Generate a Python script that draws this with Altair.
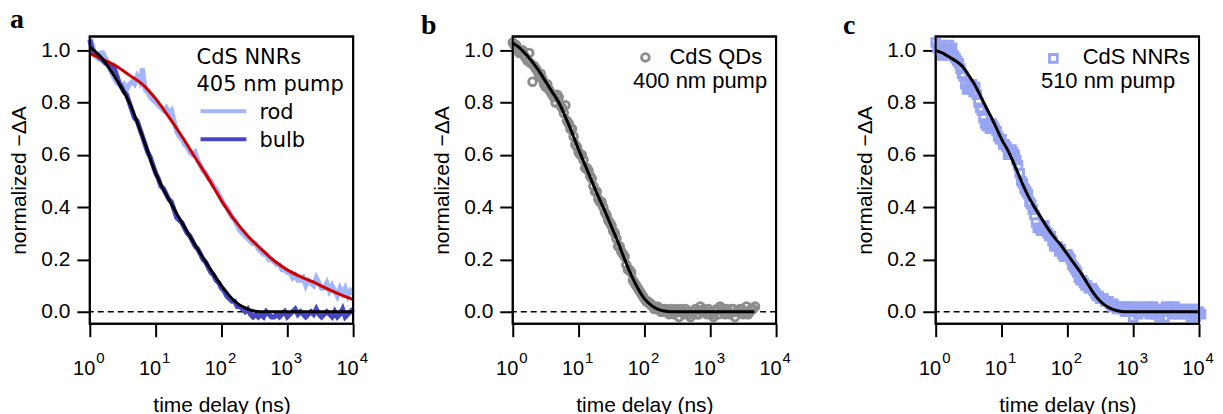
import altair as alt
import pandas as pd

SANS = "Liberation Sans"
VER = "DejaVu Sans"
SERIF = "Liberation Serif"

ROD = "#a3b6f7"
BULB = "#4747c4"
RED = "#cc0000"
GRAY = "#8c8c8c"
SQ = "#97a5f2"

# ---------------- data (log10 of delay in ns, normalized -dA) ----------------
# panel a : rod trace
a_rod_exp = [0.00,0.04,0.08,0.12,0.16,0.20,0.24,0.28,0.32,0.36,0.40,0.44,0.48,0.52,0.56,0.60,0.64,0.68,0.72,0.76,
             0.80,0.84,0.88,0.92,0.96,1.00,1.04,1.08,1.12,1.16,1.20,1.24,1.28,1.32,1.36,1.40,1.44,1.48,1.52,1.56,
             1.60,1.64,1.68,1.72,1.76,1.80,1.84,1.88,1.92,1.96,2.00,2.04,2.08,2.12,2.16,2.20,2.24,2.28,2.32,2.36,
             2.40,2.44,2.48,2.52,2.56,2.60,2.64,2.68,2.72,2.76,2.80,2.84,2.88,2.92,2.96,3.00,3.04,3.08,3.12,3.16,
             3.20,3.24,3.28,3.32,3.36,3.40,3.44,3.48,3.52,3.56,3.60,3.64,3.68,3.72,3.76,3.80,3.84,3.88,3.92,3.96,4.00]
a_rod_val = [1.05,1.02,0.98,0.97,0.99,0.99,0.97,0.94,0.92,0.90,0.88,0.87,0.86,0.87,0.85,0.87,0.88,0.87,0.90,0.88,
             0.93,0.85,0.84,0.82,0.81,0.80,0.79,0.78,0.77,0.78,0.76,0.77,0.73,0.69,0.67,0.66,0.64,0.63,0.61,0.60,
             0.61,0.58,0.56,0.54,0.53,0.51,0.50,0.48,0.47,0.45,0.43,0.41,0.40,0.38,0.36,0.35,0.33,0.31,0.30,0.29,
             0.28,0.27,0.26,0.26,0.24,0.23,0.22,0.22,0.20,0.20,0.19,0.18,0.18,0.16,0.16,0.15,0.15,0.13,0.14,0.12,
             0.12,0.13,0.10,0.12,0.11,0.10,0.13,0.11,0.09,0.09,0.11,0.08,0.10,0.08,0.06,0.09,0.07,0.09,0.06,0.08,0.07]
# panel a : bulb trace
a_bulb_exp = a_rod_exp
a_bulb_val = [1.04,1.00,0.99,0.98,0.97,0.96,0.95,0.95,0.94,0.94,0.91,0.88,0.86,0.84,0.83,0.80,0.77,0.74,0.73,0.70,
              0.67,0.64,0.61,0.59,0.56,0.53,0.51,0.48,0.47,0.45,0.43,0.42,0.39,0.36,0.35,0.34,0.32,0.30,0.29,0.27,
              0.25,0.24,0.22,0.20,0.19,0.17,0.15,0.14,0.12,0.11,0.09,0.08,0.06,0.05,0.04,0.04,0.02,0.02,0.01,0.00,
              0.01,-0.01,-0.02,-0.01,-0.02,-0.01,-0.02,0.00,-0.01,-0.02,-0.02,-0.01,-0.02,-0.01,0.00,-0.02,-0.01,0.00,0.01,-0.01,
              0.00,-0.01,-0.02,-0.01,0.00,-0.01,0.01,-0.01,-0.02,-0.01,0.00,-0.01,-0.02,0.00,-0.02,-0.01,0.01,-0.02,-0.01,0.00,0.01]
# panel a : fits
a_fit_exp = [0.0,0.2,0.4,0.6,0.8,1.0,1.2,1.4,1.6,1.8,2.0,2.2,2.4,2.6,2.8,3.0,3.2,3.4,3.6,3.8,4.0]
a_rod_fit = [0.987,0.965,0.94,0.905,0.87,0.815,0.745,0.67,0.59,0.51,0.425,0.35,0.29,0.24,0.195,0.16,0.134,0.113,0.088,0.066,0.046]
a_bulb_fit = [1.013,0.965,0.89,0.80,0.67,0.53,0.43,0.34,0.255,0.175,0.10,0.04,0.01,0.0,0.0,0.0,0.0,0.0,0.0,0.0,0.0]

# panel b : CdS QDs
b_exp = [0.00,0.05,0.10,0.15,0.20,0.25,0.30,0.35,0.40,0.45,0.50,0.55,0.60,0.65,0.70,0.75,0.80,0.85,0.90,0.95,
         1.00,1.05,1.10,1.15,1.20,1.25,1.30,1.35,1.40,1.45,1.50,1.55,1.60,1.65,1.70,1.75,1.80,1.85,1.90,1.95,
         2.00,2.05,2.10,2.15,2.20,2.25,2.30,2.35,2.40,2.45,2.50,2.55,2.60,2.65,2.70,2.75,2.80,2.85,2.90,2.95,
         3.00,3.05,3.10,3.15,3.20,3.25,3.30,3.35,3.40,3.45,3.50,3.55,3.60,3.65,3.68,
         0.025,0.075,0.125,0.175,0.225,0.275,0.325,0.375,0.425,0.475,0.525,0.575,0.625,0.675,0.725,0.775,
         0.825,0.875,0.925,0.975,1.025,1.075,1.125,1.175,1.225,1.275,1.325,1.375,1.425,1.475,1.525,1.575,
         1.625,1.675,1.725,1.775,1.825,1.875,1.925,1.975,2.025,2.075,2.125,2.175,2.225,2.275,2.325,2.375,
         2.425,2.475,2.525,2.575,2.625,2.675,2.725,2.775,2.825,2.875,2.925,2.975,3.025,3.075,3.125,3.175,
         3.225,3.275,3.325,3.375,3.425,3.475,3.525,3.575,3.625]
b_val = [1.03,1.02,0.99,1.00,0.97,0.99,0.88,0.93,0.90,0.89,0.86,0.85,0.83,0.80,0.82,0.78,0.79,0.72,0.70,0.64,
         0.61,0.60,0.55,0.54,0.51,0.46,0.43,0.42,0.38,0.35,0.33,0.30,0.25,0.23,0.21,0.16,0.15,0.11,0.09,0.07,
         0.05,0.04,0.03,0.01,0.02,0.00,0.01,0.00,0.01,-0.01,0.00,0.01,-0.01,0.00,-0.02,0.00,-0.01,0.02,0.01,-0.01,
         0.00,-0.02,0.01,0.02,0.00,0.01,-0.01,0.01,0.00,0.01,-0.01,0.02,0.00,0.01,0.02,
         1.02,1.00,1.00,0.98,0.96,0.95,0.94,0.92,0.91,0.87,0.87,0.84,0.82,0.83,0.79,0.76,
         0.73,0.70,0.67,0.63,0.60,0.58,0.55,0.52,0.48,0.46,0.42,0.40,0.37,0.34,0.31,0.28,
         0.25,0.22,0.18,0.16,0.12,0.10,0.08,0.06,0.04,0.03,0.02,0.01,0.01,0.00,0.01,-0.01,
         0.00,0.01,-0.02,0.00,0.01,-0.01,0.00,0.01,-0.01,0.00,0.00,0.01,-0.01,0.00,-0.01,0.01,
         -0.01,0.00,0.01,-0.02,0.00,0.01,0.00,-0.01,0.01]
b_fit_exp = [0.0,0.1,0.2,0.3,0.4,0.5,0.6,0.7,0.8,0.9,1.0,1.1,1.2,1.3,1.4,1.5,1.6,1.7,1.8,1.9,2.0,2.1,2.2,2.3,2.4,3.0,3.67]
b_fit = [1.028,1.01,0.985,0.955,0.92,0.88,0.84,0.80,0.745,0.685,0.62,0.56,0.50,0.44,0.385,0.325,0.265,0.20,0.14,0.09,0.05,0.025,0.01,0.003,0.0,0.0,0.0]

# panel c : CdS NNRs, 510 nm pump
c_exp = [0.00,0.05,0.10,0.15,0.20,0.25,0.30,0.35,0.40,0.45,0.50,0.55,0.60,0.65,0.70,0.75,0.80,0.85,0.90,0.95,
         1.00,1.05,1.10,1.15,1.20,1.25,1.30,1.35,1.40,1.45,1.50,1.55,1.60,1.65,1.70,1.75,1.80,1.85,1.90,1.95,
         2.00,2.05,2.10,2.15,2.20,2.25,2.30,2.35,2.40,2.45,2.50,2.55,2.60,2.65,2.70,2.75,2.80,2.85,2.90,2.95,
         3.00,3.05,3.10,3.15,3.20,3.25,3.30,3.35,3.40,3.45,3.50,3.55,3.60,3.65,3.70,3.75,3.80,3.85,3.90,3.95,4.00,4.03,
         0.025,0.075,0.125,0.175,0.225,0.275,0.325,0.375,0.425,0.475,0.525,0.575,0.625,0.675,0.725,0.775,
         0.825,0.875,0.925,0.975,1.025,1.075,1.125,1.175,1.225,1.275,1.325,1.375,1.425,1.475,1.525,1.575,
         1.625,1.675,1.725,1.775,1.825,1.875,1.925,1.975,2.025,2.075,2.125,2.175,2.225,2.275,2.325,2.375,
         2.425,2.475,2.525,2.575,2.625,2.675,2.725,2.775,2.825,2.875,2.925,2.975,3.025,3.075,3.125,3.175,
         3.225,3.275,3.325,3.375,3.425,3.475,3.525,3.575,3.625,3.675,3.725,3.775,3.825,3.875,3.925,3.975]
c_val = [1.03,1.00,0.98,1.01,1.02,1.01,0.97,0.95,0.91,0.87,0.86,0.87,0.86,0.80,0.77,0.72,0.71,0.72,0.70,0.67,
         0.66,0.64,0.60,0.62,0.60,0.56,0.50,0.47,0.45,0.41,0.37,0.32,0.31,0.33,0.30,0.29,0.25,0.25,0.24,0.21,
         0.22,0.20,0.17,0.15,0.12,0.11,0.10,0.09,0.08,0.06,0.05,0.05,0.04,0.03,0.03,0.01,0.02,0.01,0.02,0.00,
         -0.02,0.01,0.02,0.00,0.01,-0.01,0.02,0.00,-0.02,0.01,0.02,0.00,-0.01,0.01,0.00,0.01,-0.01,0.00,0.01,-0.02,0.00,-0.01,
         1.01,1.02,0.99,0.98,1.00,0.98,0.96,0.93,0.90,0.85,0.85,0.84,0.83,0.78,0.74,0.71,
         0.70,0.71,0.69,0.66,0.64,0.63,0.61,0.61,0.58,0.53,0.49,0.46,0.42,0.39,0.34,0.32,
         0.32,0.31,0.29,0.27,0.25,0.23,0.22,0.22,0.21,0.18,0.16,0.13,0.12,0.10,0.09,0.09,
         0.07,0.06,0.05,0.04,0.04,0.02,0.02,0.02,0.01,0.00,0.01,0.02,0.00,-0.01,0.01,0.00,
         0.02,0.00,-0.01,0.01,0.00,-0.02,0.01,0.00,0.02,-0.01,0.00,0.01,0.00,-0.02,0.01,0.00]
c_fit_exp = [0.0,0.1,0.2,0.3,0.4,0.5,0.6,0.7,0.8,0.9,1.0,1.1,1.2,1.3,1.4,1.5,1.6,1.7,1.8,1.9,2.0,2.1,2.2,2.3,2.4,2.5,2.6,2.7,2.8,2.9,3.5,4.0]
c_fit = [1.00,0.99,0.975,0.96,0.94,0.905,0.865,0.815,0.765,0.715,0.66,0.615,0.56,0.50,0.445,0.40,0.36,0.32,0.285,0.255,0.22,0.185,0.15,0.11,0.07,0.04,0.02,0.008,0.002,0.0,0.0,0.0]

tick_exps = [0, 1, 2, 3, 4]
tick_base = ["10"] * 5
tick_sup = ["0", "1", "2", "3", "4"]
y_ticks = [0.0, 0.2, 0.4, 0.6, 0.8, 1.0]


def df(exps, vals):
    return pd.DataFrame({"t": [10 ** e for e in exps], "v": vals})


W, H = 264, 288
xs = alt.Scale(type="log", domain=[1, 10000], nice=False)
ys = alt.Scale(domain=[-0.046, 1.053], nice=False, zero=False)
xaxis = alt.Axis(values=[10 ** e for e in tick_exps], labels=False, tickSize=13, tickWidth=2,
                 tickColor="black", domain=False, grid=False, title="time delay (ns)",
                 titleFont=SANS, titleFontSize=21, titleFontWeight="normal", titleColor="black",
                 titlePadding=57)
yaxis = alt.Axis(values=y_ticks, format=".1f", tickSize=13, tickWidth=2, tickColor="black",
                 domain=False, grid=False, labelFont=SANS, labelFontSize=21, labelColor="black",
                 labelPadding=7, title="normalized −ΔA", titleFont=SANS, titleFontSize=21,
                 titleFontWeight="normal", titleColor="black", titlePadding=11)
X = alt.X("t:Q", scale=xs, axis=xaxis)
Y = alt.Y("v:Q", scale=ys, axis=yaxis)

one = pd.DataFrame({"k": [0]})
ticks_df = pd.DataFrame({"t": [10 ** e for e in tick_exps], "base": tick_base, "sup": tick_sup})


def common():
    frame = alt.Chart(one).mark_rect(fillOpacity=0, stroke="black", strokeWidth=2).encode(
        x=alt.value(0), x2=alt.value(W), y=alt.value(0), y2=alt.value(H))
    zero = alt.Chart(pd.DataFrame({"v": [0.0]})).mark_rule(
        color="black", strokeWidth=1.5, strokeDash=[6, 4]).encode(y=Y)
    base = alt.Chart(ticks_df).mark_text(align="right", dx=5.5, baseline="alphabetic", font=SANS,
                                         fontSize=20, color="black").encode(
        x=X, y=alt.value(H + 51), text="base:N")
    sup = alt.Chart(ticks_df).mark_text(align="left", dx=6.5, baseline="alphabetic", font=SANS,
                                        fontSize=15, color="black").encode(
        x=X, y=alt.value(H + 39), text="sup:N")
    return frame, zero, base, sup


def txt(s, x, y, font, size, align="left"):
    return alt.Chart(one).mark_text(text=s, align=align, baseline="alphabetic", font=font,
                                    fontSize=size, color="black").encode(
        x=alt.value(x), y=alt.value(y))


def title(letter, dx):
    return alt.TitleParams(letter, anchor="start", frame="group", dx=dx, font=SERIF, fontSize=28,
                           fontWeight="bold", color="black", offset=-7)


# ---------- panel a ----------
fr, z, tb, ts = common()
rod = alt.Chart(df(a_rod_exp, a_rod_val)).mark_line(color=ROD, strokeWidth=5).encode(x=X, y=Y)
bulb = alt.Chart(df(a_bulb_exp, a_bulb_val)).mark_line(color=BULB, strokeWidth=5).encode(x=X, y=Y)
rfit = alt.Chart(df(a_fit_exp, a_rod_fit)).mark_line(color=RED, strokeWidth=3, interpolate="monotone").encode(x=X, y=Y)
bfit = alt.Chart(df(a_fit_exp, a_bulb_fit)).mark_line(color="black", strokeWidth=3, interpolate="monotone").encode(x=X, y=Y)
leg_a = [
    txt("CdS NNRs", 107, 28, VER, 21),
    txt("405 nm pump", 107, 55, VER, 21),
    alt.Chart(one).mark_rule(color=ROD, strokeWidth=4).encode(x=alt.value(111), x2=alt.value(157), y=alt.value(75)),
    txt("rod", 170, 83, VER, 21),
    alt.Chart(one).mark_rule(color=BULB, strokeWidth=4).encode(x=alt.value(111), x2=alt.value(157), y=alt.value(103)),
    txt("bulb", 170, 111, VER, 21),
]
pa = alt.layer(z, rod, bulb, rfit, bfit, fr, tb, ts, *leg_a).properties(
    width=W, height=H, title=title("a", -80))

# ---------- panel b ----------
fr, z, tb, ts = common()
circ = alt.Chart(df(b_exp, b_val)).mark_point(shape="circle", filled=False, size=60, strokeWidth=2.8,
                                              color=GRAY, opacity=1).encode(x=X, y=Y)
bf = alt.Chart(df(b_fit_exp, b_fit)).mark_line(color="black", strokeWidth=3, interpolate="monotone").encode(x=X, y=Y)
leg_b = [
    alt.Chart(one).mark_point(shape="circle", filled=False, size=60, strokeWidth=2.8, color=GRAY, opacity=1).encode(
        x=alt.value(133), y=alt.value(21)),
    txt("CdS QDs", 250, 28, SANS, 22, "right"),
    txt("400 nm pump", 255, 52, SANS, 22, "right"),
]
pb = alt.layer(z, circ, bf, fr, tb, ts, *leg_b).properties(
    width=W, height=H, title=title("b", -92))

# ---------- panel c ----------
fr, z, tb, ts = common()
sq = alt.Chart(df(c_exp, c_val)).mark_point(shape="square", filled=False, size=60, strokeWidth=2.8,
                                            color=SQ, opacity=1).encode(x=X, y=Y)
cf = alt.Chart(df(c_fit_exp, c_fit)).mark_line(color="black", strokeWidth=3, interpolate="monotone").encode(x=X, y=Y)
leg_c = [
    alt.Chart(one).mark_point(shape="square", filled=False, size=60, strokeWidth=2.8, color=SQ, opacity=1).encode(
        x=alt.value(118), y=alt.value(22)),
    txt("CdS NNRs", 255, 28, SANS, 22, "right"),
    txt("510 nm pump", 240, 52, SANS, 22, "right"),
]
pc = alt.layer(z, sq, cf, fr, tb, ts, *leg_c).properties(
    width=W, height=H, title=title("c", -93))

chart = alt.hconcat(pa, pb, pc, spacing=160, bounds="flush").properties(
    padding={"left": -1, "top": -4, "right": 0, "bottom": 0}
).configure_view(stroke="black", strokeWidth=2)

chart.save("out.html", embed_options={"renderer": "svg", "actions": False})
